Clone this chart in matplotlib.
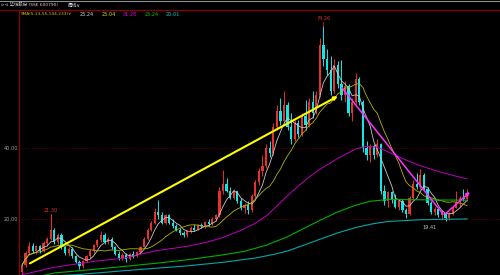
import numpy as np
import pandas as pd
import matplotlib
matplotlib.use('Agg')
import matplotlib.pyplot as plt

plt.rcParams['font.family'] = ['DejaVu Sans', 'Noto Sans CJK SC']

# weekly candles
opens = [5.0, 7.0, 10.5, 12.5, 11.0, 12.3, 11.0, 13.2, 14.5, 16.8,
         13.5, 15.5, 12.0, 10.5, 11.5, 9.5, 8.0, 6.8, 8.2, 9.5,
         11.0, 12.8, 14.0, 15.5, 13.5, 14.5, 12.0, 10.2, 9.0, 10.0,
         8.8, 10.2, 9.5, 10.8, 12.2, 14.5, 17.0, 19.0, 22.0, 21.0,
         19.0, 21.0, 19.0, 18.0, 17.0, 16.0, 15.5, 16.5, 17.5, 17.0,
         18.2, 18.0, 19.2, 18.5, 20.0, 21.0, 28.0, 30.0, 28.0, 26.0,
         27.8, 25.0, 23.0, 24.0, 22.5, 26.5, 30.5, 33.5, 35.0, 40.0,
         38.5, 46.0, 50.5, 47.5, 52.0, 46.0, 42.5, 47.0, 44.0, 49.0,
         46.5, 53.0, 50.0, 55.0, 69.0, 65.0, 62.0, 56.0, 63.5, 58.0,
         55.0, 57.5, 50.0, 53.0, 59.5, 53.0, 40.0, 38.0, 40.5, 38.0,
         41.0, 28.0, 25.0, 27.5, 25.5, 23.5, 25.0, 22.5, 21.5, 26.0,
         30.0, 29.0, 32.5, 28.5, 24.5, 22.0, 22.8, 21.0, 21.8, 20.2,
         21.5, 23.2, 24.8, 26.0, 25.5]
highs = [7.5, 11.0, 13.5, 13.2, 12.8, 12.8, 13.8, 15.0, 21.3, 17.5,
         16.0, 16.0, 12.5, 12.0, 12.0, 10.0, 8.5, 8.5, 9.8, 11.5,
         13.0, 14.5, 16.5, 16.0, 15.0, 14.8, 12.5, 11.0, 10.5, 10.5,
         10.5, 11.0, 11.0, 12.5, 15.0, 17.5, 19.5, 23.0, 25.4, 22.0,
         21.5, 21.5, 20.0, 18.5, 17.5, 16.5, 17.0, 18.0, 18.5, 18.5,
         19.0, 19.5, 20.0, 20.5, 21.5, 29.0, 33.8, 31.5, 29.0, 28.5,
         28.0, 26.0, 24.5, 25.0, 27.0, 31.0, 34.5, 38.0, 41.0, 42.0,
         47.0, 52.0, 54.0, 56.0, 53.0, 50.0, 48.0, 48.0, 50.0, 53.5,
         54.0, 56.0, 56.0, 71.0, 74.26, 68.0, 66.0, 65.0, 64.5, 64.8,
         59.0, 58.0, 54.0, 61.0, 60.0, 53.5, 42.0, 41.0, 41.0, 42.5,
         41.5, 29.5, 28.0, 28.0, 27.0, 25.5, 25.5, 23.0, 26.5, 31.0,
         33.0, 34.0, 33.0, 29.0, 25.0, 23.5, 23.0, 22.5, 22.0, 22.0,
         23.5, 28.0, 26.5, 28.5, 28.5]
lows = [4.3, 6.5, 10.0, 10.5, 10.2, 10.5, 10.8, 12.5, 14.0, 13.0,
        13.0, 11.5, 10.0, 9.5, 9.0, 7.5, 6.0, 6.2, 7.8, 9.0,
        10.5, 12.0, 13.5, 13.0, 13.0, 11.5, 9.8, 8.5, 8.5, 8.0,
        8.5, 9.0, 9.2, 10.5, 12.0, 14.0, 16.5, 18.5, 20.0, 18.5,
        18.5, 18.5, 17.5, 16.5, 15.5, 14.8, 15.0, 16.0, 16.5, 16.8,
        17.5, 17.5, 18.0, 18.2, 19.5, 20.5, 27.0, 27.5, 25.5, 25.5,
        24.5, 22.5, 21.8, 21.5, 22.0, 26.0, 29.5, 32.0, 34.5, 37.5,
        38.0, 45.0, 46.5, 47.0, 45.0, 41.0, 42.0, 43.0, 43.5, 45.0,
        46.0, 48.5, 49.5, 54.5, 63.0, 60.5, 55.0, 55.5, 57.0, 53.5,
        53.0, 49.0, 47.5, 52.5, 52.0, 39.0, 36.5, 36.0, 37.0, 37.5,
        27.0, 24.0, 23.5, 24.5, 23.0, 22.5, 22.0, 20.4, 21.0, 25.5,
        28.5, 28.5, 28.0, 24.0, 21.5, 21.0, 20.5, 20.0, 19.41, 19.8,
        21.0, 23.0, 23.5, 25.0, 25.0]
closes = [7.0, 10.5, 12.5, 11.0, 12.3, 11.0, 13.2, 14.5, 16.8, 13.5,
          15.5, 12.0, 10.5, 11.5, 9.5, 8.0, 6.8, 8.2, 9.5, 11.0,
          12.8, 14.0, 15.5, 13.5, 14.5, 12.0, 10.2, 9.0, 10.0, 8.8,
          10.2, 9.5, 10.8, 12.2, 14.5, 17.0, 19.0, 22.0, 21.0, 19.0,
          21.0, 19.0, 18.0, 17.0, 16.0, 15.5, 16.5, 17.5, 17.0, 18.2,
          18.0, 19.2, 18.5, 20.0, 21.0, 28.0, 30.0, 28.0, 26.0, 27.8,
          25.0, 23.0, 24.0, 22.5, 26.5, 30.5, 33.5, 35.0, 40.0, 38.5,
          46.0, 50.5, 47.5, 52.0, 46.0, 42.5, 47.0, 44.0, 49.0, 46.5,
          53.0, 50.0, 55.0, 69.0, 65.0, 62.0, 56.0, 63.5, 58.0, 55.0,
          57.5, 50.0, 53.0, 59.5, 53.0, 40.0, 38.0, 40.5, 38.0, 41.0,
          28.0, 25.0, 27.5, 25.5, 23.5, 25.0, 22.5, 21.5, 26.0, 30.0,
          29.0, 32.5, 28.5, 24.5, 22.0, 22.8, 21.0, 21.8, 20.2, 21.5,
          23.2, 24.8, 26.0, 25.5, 26.7]

# long averages (their history starts before the visible window)
ma55_idx = [0, 9, 21, 28, 37, 46, 52, 56, 61, 65, 68, 71, 74, 77, 80, 83, 88, 93, 96, 99, 102, 107, 111, 116, 120, 124]
ma55_val = [4.3, 6.4, 8.2, 8.9, 11.0, 12.3, 13.6, 14.8, 16.8, 18.8, 20.8, 23.6, 26.6, 29.3, 31.8, 34.0, 37.1, 39.7, 40.5, 40.2, 38.9, 36.6, 35.0, 33.4, 32.3, 31.3]
ma144_idx = [0, 7, 9, 20, 37, 46, 56, 62, 68, 74, 79, 83, 88, 93, 97, 102, 112, 124]
ma144_val = [3.0, 4.3, 4.8, 5.8, 7.5, 8.5, 9.9, 10.9, 12.6, 15.0, 17.6, 19.6, 22.0, 23.9, 25.0, 25.5, 25.4, 25.3]
ma233_idx = [0, 9, 15, 28, 46, 56, 65, 70, 74, 79, 83, 88, 93, 98, 102, 111, 124]
ma233_val = [2.5, 4.0, 4.3, 5.4, 6.8, 7.8, 9.0, 10.0, 11.0, 12.8, 14.3, 16.1, 17.6, 18.7, 19.3, 19.8, 20.01]

ma_labels = ['25.24', '25.04', '31.28', '25.24', '20.01']
ma_colors = ['#d0d0d0', '#d8d800', '#e000e0', '#00c800', '#00c8c8']
yticks = [20, 40]
ytick_labels = ['20.00', '40.00']

o = np.array(opens); h = np.array(highs); l = np.array(lows); c = np.array(closes)
idx = np.arange(len(c))
up = c >= o
cols = np.where(up, '#e8302c', '#10e8e8')

fig = plt.figure(figsize=(5, 2.75), dpi=100, facecolor='black')
ax = fig.add_axes([19/500, 0, 1 - 19/500, 1 - 9.5/275])
ax.set_facecolor('black')

sp = 3.589
xmin = -3 / sp
ax.set_xlim(xmin, xmin + 481 / sp)
ax.set_ylim(20 - 56 / 3.55, 20 + 209.5 / 3.55)

for v in yticks:
    ax.axhline(v, color='#900000', lw=0.6, ls=(0, (1, 2)), zorder=0)

ax.vlines(idx, l, h, colors=cols, lw=0.7, zorder=2)
ax.bar(idx, np.maximum(np.abs(c - o), 0.2), bottom=np.minimum(o, c), width=0.62,
       color=cols, lw=0, zorder=3)

ma5 = pd.Series(c).rolling(5, min_periods=1).mean()
ma13 = pd.Series(c).rolling(13, min_periods=1).mean()
ax.plot(idx, ma5, color='#c8c8c8', lw=0.6, zorder=4)
ax.plot(idx, ma13, color='#b4b400', lw=0.6, zorder=4)
ax.plot(ma55_idx, ma55_val, color='#c000c0', lw=0.7, zorder=4)
ax.plot(ma233_idx, ma233_val, color='#00a8a8', lw=0.8, zorder=4)
ax.plot(ma144_idx, ma144_val, color='#00b000', lw=0.8, zorder=4)

# hand drawn trend lines
ax.annotate('', xy=(88.0, 54.6), xytext=(2.2, 7.5),
            arrowprops=dict(arrowstyle='-|>', color='#ffff00', lw=1.5,
                            mutation_scale=5, shrinkA=0, shrinkB=0), zorder=6)
ax.plot([89.2, 117.3], [56.9, 21.4], color='#ff30ff', lw=1.1, zorder=6)
ax.annotate('', xy=(124.8, 27.6), xytext=(117.9, 21.4),
            arrowprops=dict(arrowstyle='-|>', color='#ff30ff', lw=1.1,
                            mutation_scale=5, shrinkA=0, shrinkB=0), zorder=6)

# high / low labels
hi = int(np.argmax(h))
ax.text(hi, h[hi] + 1.4, '%.2f' % h[hi], color='#e03030', fontsize=3.6, ha='center', va='bottom')
ax.plot([hi, hi], [h[hi], h[hi] + 1.3], color='#e03030', lw=0.5)
ax.text(8, h[8] + 0.5, '%.2f' % h[8], color='#e03030', fontsize=3.6, ha='center', va='bottom')
lo = int(np.argmin(l[80:])) + 80
ax.text(lo - 4.5, l[lo] - 1.0, '%.2f' % l[lo], color='#a8c8c8', fontsize=3.6, ha='center', va='top')

ax.set_yticks(yticks)
ax.set_yticklabels(ytick_labels)
ax.tick_params(axis='y', length=0, pad=0.8, labelsize=3.6, colors='#a0a0a0')
ax.set_xticks([])
for s in ['right', 'bottom']:
    ax.spines[s].set_visible(False)
ax.spines['left'].set_color('#900000')
ax.spines['top'].set_color('#900000')
ax.spines['left'].set_linewidth(0.8)
ax.spines['top'].set_linewidth(0.8)

# header
fig.add_artist(plt.Line2D([0, 1], [1 - 9.5/275] * 2, color='#900000', lw=0.8))
fig.add_artist(plt.Line2D([0, 1], [0.998, 0.998], color='#909090', lw=0.8))
fig.text(1/500, 1 - 5/275, '⊳⊲ 华纺股份 (SSE 600790)', color='#d0d0d0', fontsize=3.2, va='center')
fig.text(68/500, 1 - 5/275, '周线∨', color='#e0e0e0', fontsize=3.4, va='center')
fig.text(21/500, 1 - 14.2/275, 'SMA(5,13,55,144,233)∨', color='#d8c000', fontsize=3.1, va='center')
for i, (txt, col) in enumerate(zip(ma_labels, ma_colors)):
    fig.text((80 + 21.5 * i) / 500, 1 - 14.2/275, txt, color=col, fontsize=3.6, va='center')

fig.savefig('out.png', dpi=100, facecolor='black')
